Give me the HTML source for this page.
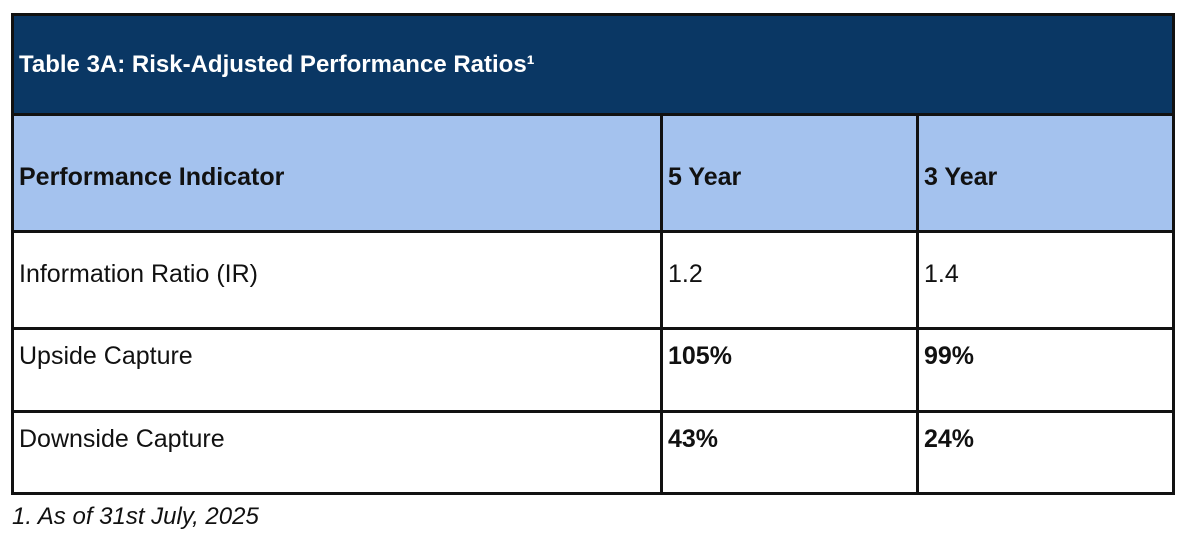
<!DOCTYPE html>
<html><head><meta charset="utf-8"><style>
body{margin:0;width:1193px;height:550px;background:#fff;position:relative;overflow:hidden;font-family:"Liberation Sans",sans-serif;}
.a{position:absolute;box-sizing:border-box;}
.t{position:absolute;white-space:nowrap;font-size:25px;color:#111;}
.b{font-weight:bold;}
.h{background:#111;}
</style></head><body>
<div class="a" style="left:11px;top:13px;width:1164px;height:102px;background:#0a3764;"></div>
<div class="a" style="left:11px;top:115px;width:1164px;height:116px;background:#a4c2ee;"></div>
<!-- borders -->
<div class="a h" style="left:11px;top:13px;width:1164px;height:3px"></div>
<div class="a h" style="left:11px;top:113px;width:1164px;height:3px"></div>
<div class="a h" style="left:11px;top:230px;width:1164px;height:3px"></div>
<div class="a h" style="left:11px;top:327px;width:1164px;height:3px"></div>
<div class="a h" style="left:11px;top:410px;width:1164px;height:3px"></div>
<div class="a h" style="left:11px;top:492px;width:1164px;height:3px"></div>
<div class="a h" style="left:11px;top:13px;width:3px;height:482px"></div>
<div class="a h" style="left:1172px;top:13px;width:3px;height:482px"></div>
<div class="a h" style="left:660px;top:113px;width:3px;height:382px"></div>
<div class="a h" style="left:916px;top:113px;width:3px;height:382px"></div>
<div class="t b" style="left:19px;top:51px;color:#fff;font-size:24px;">Table 3A: Risk-Adjusted Performance Ratios¹</div>
<div class="t b" style="left:19px;top:163px;">Performance Indicator</div>
<div class="t b" style="left:668px;top:163px;">5 Year</div>
<div class="t b" style="left:924px;top:163px;">3 Year</div>
<div class="t" style="left:19px;top:260px;">Information Ratio (IR)</div>
<div class="t" style="left:668px;top:260px;">1.2</div>
<div class="t" style="left:924px;top:260px;">1.4</div>
<div class="t" style="left:19px;top:342px;">Upside Capture</div>
<div class="t b" style="left:668px;top:342px;">105%</div>
<div class="t b" style="left:924px;top:342px;">99%</div>
<div class="t" style="left:19px;top:425px;">Downside Capture</div>
<div class="t b" style="left:668px;top:425px;">43%</div>
<div class="t b" style="left:924px;top:425px;">24%</div>
<div class="t" style="left:12px;top:503px;font-style:italic;font-size:24px;">1. As of 31st July, 2025</div>
</body></html>
